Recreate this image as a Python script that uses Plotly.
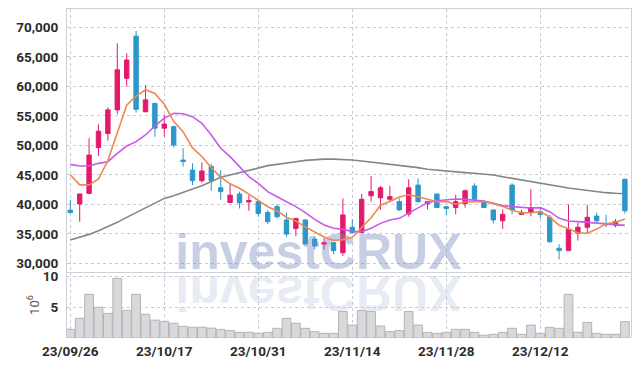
import plotly.graph_objects as go

# ---------------- data ----------------
dates = ["23/09/26","23/09/27","23/10/04","23/10/05","23/10/06","23/10/10","23/10/11","23/10/12","23/10/13","23/10/16",
         "23/10/17","23/10/18","23/10/19","23/10/20","23/10/23","23/10/24","23/10/25","23/10/26","23/10/27","23/10/30",
         "23/10/31","23/11/01","23/11/02","23/11/03","23/11/06","23/11/07","23/11/08","23/11/09","23/11/10","23/11/13",
         "23/11/14","23/11/15","23/11/16","23/11/17","23/11/20","23/11/21","23/11/22","23/11/23","23/11/24","23/11/27",
         "23/11/28","23/11/29","23/11/30","23/12/01","23/12/04","23/12/05","23/12/06","23/12/07","23/12/08","23/12/11",
         "23/12/12","23/12/13","23/12/14","23/12/15","23/12/18","23/12/19","23/12/20","23/12/21","23/12/22","23/12/26"]

opens = [39000,40050,41850,49600,52000,56000,61350,68500,55700,57100,
         52900,53150,47500,45800,44000,46400,42800,40300,41750,40400,
         40450,38600,39600,37350,35900,37350,34100,33250,33500,31800,
         36100,35200,41450,41100,40850,40450,38350,43250,40100,41750,
         39600,39450,40100,43100,40300,39050,37200,43250,38300,38600,
         38750,37800,32550,32150,35100,36100,38000,36700,36450,44250]

highs = [40700,41800,51200,53550,56450,67300,65600,69400,60200,57200,
         55150,53300,49500,46950,47100,46850,45800,43550,42150,41550,
         40550,39050,40000,38600,37700,37400,34600,34250,33550,41000,
         37450,41750,44800,43100,43100,41000,44250,44400,40450,41750,
         39700,41600,42500,43550,40750,39050,39150,43550,39050,42550,
         39300,38200,33250,40000,36900,39900,38600,38200,37500,44300]

lows = [38450,37050,41700,48200,50800,55300,59950,55550,55550,51450,
        51450,49650,46400,43250,43650,42300,40750,40250,39300,38900,
        37900,36650,37600,34500,34600,33250,32350,32350,31550,31250,
        35100,35100,40450,39050,40550,38900,37900,40250,39150,39400,
        38200,38300,39450,40850,39450,36750,35800,38300,38200,38000,
        37600,33500,30650,32150,33850,35100,36900,36100,36100,38450]

closes = [38600,41750,48350,52400,56000,62800,64450,56100,57700,52900,
          53600,50050,47250,44000,45650,44000,42150,41550,40250,40650,
          38450,37050,37900,34950,37600,33250,32950,33500,32150,38200,
          35200,40850,42150,42800,41300,39050,42800,40450,40450,39450,
          39300,40450,42300,40850,39450,37350,38300,39050,38650,39450,
          38300,33650,32150,35750,36100,37800,37200,36550,37100,38900]

ma5 = [45000,43300,43300,44300,47420,52260,56800,58350,59410,58790,
       56950,54070,52300,49560,48110,46190,44610,43470,42720,41720,
       40610,39590,38860,37800,37190,36150,35330,34450,33890,34010,
       34400,35980,37710,39840,40460,41230,41620,41280,40810,40440,
       40490,40020,40390,40470,40470,40080,39650,39000,38560,38560,
       38750,37820,36440,35860,35190,35090,35800,36680,36950,37510]

ma20 = [46770,46500,46500,46940,47220,48640,49880,50620,51750,53270,
        54600,55420,55350,54850,53720,51750,49500,48070,46380,44680,
        43550,42140,41290,40450,39600,38580,37450,36490,35930,35750,
        35400,35360,35930,36770,37340,37620,38470,39320,40280,40610,
        40730,40900,40840,40730,40560,40160,39770,39600,39480,39370,
        39430,38750,37620,37170,37060,36940,36770,36600,36550,36430]

ma60 = [33950,34400,34900,35530,36200,36940,37790,38580,39430,40300,
        41000,41460,41970,42590,43150,43830,44570,44960,45360,45810,
        46200,46550,46770,47050,47220,47450,47600,47650,47650,47600,
        47500,47340,47170,46890,46770,46660,46490,46210,45930,45760,
        45590,45420,45360,45250,45130,44970,44680,44400,44100,43800,
        43550,43270,42990,42760,42540,42310,42140,41970,41860,41800]

volumes_m = [1.41,3.2,7.1,5.0,4.0,9.7,4.5,7.1,3.85,2.9,
             2.7,2.4,1.9,1.75,1.75,1.6,1.4,1.2,0.92,0.92,
             0.76,0.92,1.57,3.2,2.4,1.57,1.03,0.76,0.76,4.3,
             2.1,4.45,4.3,1.95,1.03,1.2,4.3,2.1,0.92,0.76,
             0.92,1.41,1.41,0.92,0.45,0.6,0.92,1.57,0.6,2.1,
             0.76,1.73,1.57,7.1,0.92,2.55,0.76,0.6,0.6,2.65]

price_ticks = [30000, 35000, 40000, 45000, 50000, 55000, 60000, 65000, 70000]
price_tick_labels = ["30,000", "35,000", "40,000", "45,000", "50,000", "55,000", "60,000", "65,000", "70,000"]
date_tick_labels = ["23/09/26", "23/10/17", "23/10/31", "23/11/14", "23/11/28", "23/12/12"]
volume_ticks = [5, 10]
volume_tick_labels = ["5", "10"]
volume_title = "10<sup>6</sup>"
watermark = "investCRUX"

# ---------------- styling ----------------
UP = "#e31a6c"
DOWN = "#2c97c9"
GRID = "#c6cadc"
AXLINE = "#cfcfd4"
TICKFONT = dict(family="Roboto, sans-serif", size=13.5, color="#2b2b2b", weight="bold")

x_idx = list(range(len(dates)))
tickvals = [dates.index(d) for d in date_tick_labels]

fig = go.Figure()

fig.add_trace(go.Candlestick(
    x=x_idx, open=opens, high=highs, low=lows, close=closes,
    increasing=dict(line=dict(color=UP, width=1), fillcolor=UP),
    decreasing=dict(line=dict(color=DOWN, width=1), fillcolor=DOWN),
    whiskerwidth=0, xaxis="x", yaxis="y", showlegend=False, hoverinfo="skip"))

# watermark reflection (flipped in post script) and watermark
wm_x = 26.4
wm_y = 31150
fig.add_trace(go.Scatter(
    x=[wm_x], y=[wm_y], mode="text", text=[watermark], uid="wmreflect",
    textfont=dict(family="Liberation Sans, Arial, sans-serif", size=50, color="rgba(130,150,200,0.2)", weight="bold"),
    textposition="middle center", cliponaxis=False, xaxis="x", yaxis="y",
    showlegend=False, hoverinfo="skip"))
fig.add_trace(go.Scatter(
    x=[wm_x], y=[wm_y], mode="text", text=[watermark], uid="wmmain",
    textfont=dict(family="Liberation Sans, Arial, sans-serif", size=50, color="rgba(120,140,190,0.42)", weight="bold"),
    textposition="middle center", cliponaxis=False, xaxis="x", yaxis="y",
    showlegend=False, hoverinfo="skip"))

fig.add_trace(go.Scatter(x=x_idx, y=ma60, mode="lines", line=dict(color="#858585", width=1.6),
                         xaxis="x", yaxis="y", showlegend=False, hoverinfo="skip"))
fig.add_trace(go.Scatter(x=x_idx, y=ma20, mode="lines", line=dict(color="#c75ae9", width=1.6),
                         xaxis="x", yaxis="y", showlegend=False, hoverinfo="skip"))
fig.add_trace(go.Scatter(x=x_idx, y=ma5, mode="lines", line=dict(color="#ef8752", width=1.6),
                         xaxis="x", yaxis="y", showlegend=False, hoverinfo="skip"))

fig.add_trace(go.Bar(x=x_idx, y=volumes_m, marker=dict(color="#d9d9db", line=dict(color="#b4b4b8", width=1)),
                     xaxis="x2", yaxis="y2", showlegend=False, hoverinfo="skip"))

xrange = [-0.35, len(dates) - 0.35]
split = 0.2006

fig.update_layout(
    width=639, height=366,
    margin=dict(l=67, r=8, t=9, b=28, autoexpand=False),
    paper_bgcolor="white", plot_bgcolor="white",
    bargap=0.07,
    boxgap=0.33,
    xaxis=dict(domain=[0, 1], anchor="y", range=xrange, rangeslider=dict(visible=False),
               tickvals=tickvals, ticktext=date_tick_labels, showticklabels=False,
               showgrid=True, gridcolor=GRID, griddash="dot", gridwidth=1, automargin=False,
               showline=True, linecolor=AXLINE, linewidth=1, mirror=True, zeroline=False, ticks=""),
    yaxis=dict(domain=[split, 1], anchor="x", range=[28525, 73100], automargin=False,
               tickvals=price_ticks, ticktext=price_tick_labels, tickfont=TICKFONT,
               showgrid=True, gridcolor=GRID, griddash="dot", gridwidth=1,
               showline=True, linecolor=AXLINE, linewidth=1, mirror=True, zeroline=False,
               ticks="", ticklabelstandoff=5),
    xaxis2=dict(domain=[0, 1], anchor="y2", range=xrange, matches="x", automargin=False,
                tickvals=tickvals, ticktext=date_tick_labels, tickfont=TICKFONT,
                showgrid=True, gridcolor=GRID, griddash="dot", gridwidth=1,
                showline=False, zeroline=False, ticks="", ticklabelstandoff=3),
    yaxis2=dict(domain=[0, split], anchor="x2", range=[0, 10.73], automargin=False,
                tickvals=volume_ticks, ticktext=volume_tick_labels, tickfont=TICKFONT,
                showgrid=True, gridcolor=GRID, griddash="dot", gridwidth=1,
                showline=True, linecolor=AXLINE, linewidth=1, mirror=True, zeroline=False,
                ticks="", ticklabelstandoff=5,
                title=dict(text=volume_title, standoff=0,
                           font=dict(family="Roboto, sans-serif", size=13, color="#555555"))),
)

post = """
document.body.style.margin = '0';
document.body.style.padding = '0';
document.body.style.overflow = 'hidden';
var gd = document.getElementById('{plot_id}');
var nodes = gd.querySelectorAll('g.textpoint text');
var cand = [];
nodes.forEach(function(n){ if (n.textContent === 'investCRUX') cand.push(n); });
if (cand.length >= 2) {
  var el = cand[0];
  var bb = el.getBBox();
  var base = bb.y + bb.height * 0.81;
  var c = base + 3;
  el.setAttribute('transform', 'translate(0,' + (2 * c) + ') scale(1,-1)');
}
"""

fig.write_html("out.html", post_script=post, config={"displayModeBar": False})
